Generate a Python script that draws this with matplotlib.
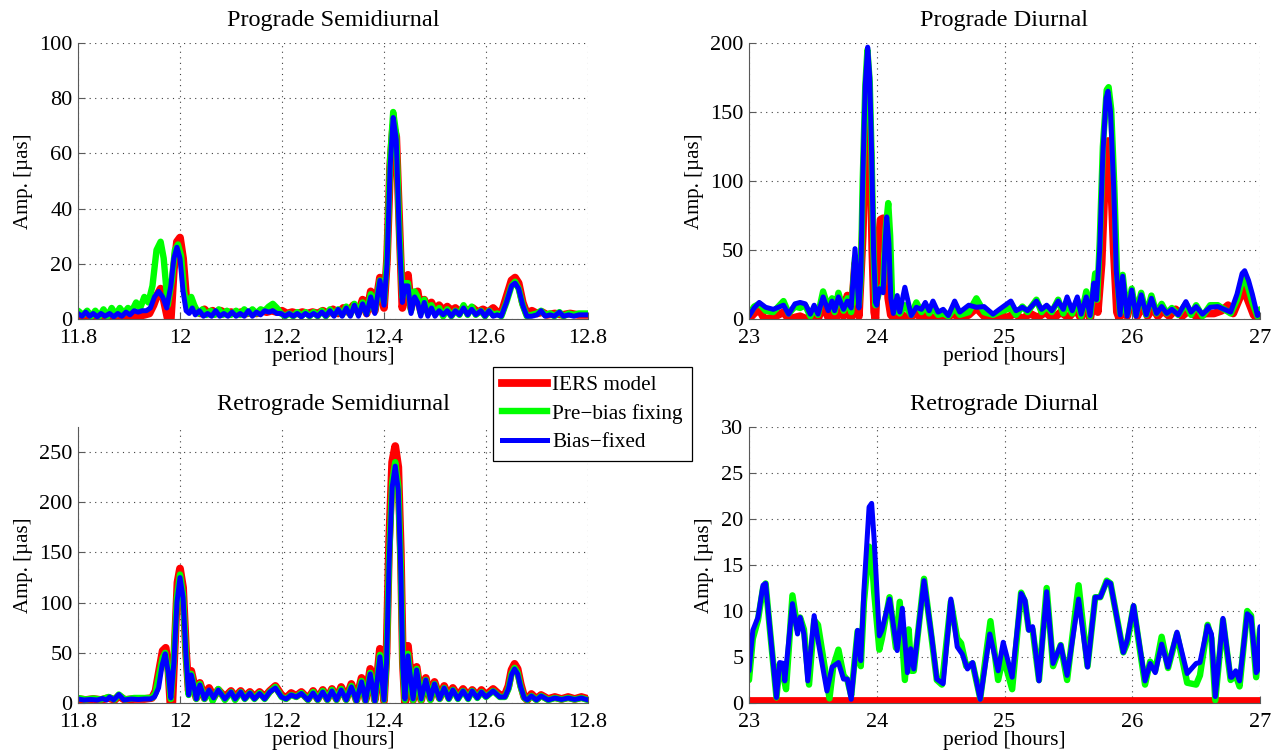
import matplotlib
matplotlib.use('Agg')
import matplotlib.pyplot as plt
from matplotlib.lines import Line2D

plt.rcParams['font.family'] = ['Liberation Serif', 'DejaVu Serif']

# ---- data: (period [h], amplitude [uas]) ----
# Prograde Semidiurnal
pro_semi_iers = [
    (11.800, 1), (11.812, 0.3), (11.822, 1.5), (11.834, 0.3), (11.846, 1), (11.858, 0.3),
    (11.870, 1), (11.882, 0.3), (11.894, 1), (11.906, 0.5), (11.918, 1), (11.930, 1.5),
    (11.940, 2), (11.948, 5), (11.956, 9), (11.962, 11), (11.968, 7), (11.976, 0),
    (11.982, 0), (11.988, 18), (11.994, 28), (12.000, 29.5), (12.006, 22), (12.012, 8),
    (12.018, 3), (12.024, 4), (12.032, 3), (12.040, 2), (12.048, 3.5), (12.056, 2),
    (12.064, 3), (12.072, 2), (12.080, 3), (12.090, 2), (12.100, 2.5), (12.110, 2),
    (12.120, 2.5), (12.130, 2), (12.140, 2.5), (12.150, 2), (12.160, 3), (12.170, 2.5),
    (12.180, 3), (12.190, 2.5), (12.200, 3), (12.210, 2), (12.220, 2.5), (12.230, 2),
    (12.240, 2.5), (12.250, 2), (12.260, 2.5), (12.270, 2), (12.280, 3), (12.290, 2),
    (12.300, 3.5), (12.310, 2), (12.320, 4), (12.330, 2.5), (12.340, 5), (12.350, 2.5),
    (12.358, 7), (12.366, 2), (12.374, 10), (12.382, 3), (12.392, 15), (12.400, 4),
    (12.406, 22), (12.412, 55), (12.418, 70), (12.424, 66), (12.430, 35), (12.436, 4),
    (12.441, 10), (12.447, 16), (12.453, 4), (12.460, 9), (12.466, 10), (12.472, 3),
    (12.479, 7), (12.486, 3), (12.493, 6), (12.500, 3), (12.508, 5), (12.516, 3),
    (12.524, 4.5), (12.532, 3), (12.540, 4), (12.548, 2.5), (12.556, 4), (12.564, 3),
    (12.574, 4), (12.584, 2.5), (12.594, 3.5), (12.604, 2.5), (12.614, 4), (12.622, 2.5),
    (12.630, 2), (12.640, 8), (12.650, 14), (12.657, 15), (12.664, 13), (12.672, 6),
    (12.680, 2), (12.690, 3), (12.700, 2), (12.710, 2.5), (12.720, 1.5), (12.735, 2),
    (12.750, 1.5), (12.765, 2), (12.780, 1.5), (12.800, 1.5),
]
pro_semi_pre = [
    (11.800, 3), (11.810, 1.5), (11.818, 3), (11.826, 1), (11.834, 3), (11.842, 1),
    (11.850, 3.5), (11.858, 1), (11.866, 4), (11.874, 1.5), (11.882, 4), (11.890, 2),
    (11.898, 4), (11.906, 3), (11.914, 6), (11.922, 4), (11.930, 8), (11.938, 6),
    (11.946, 12), (11.954, 25), (11.962, 28), (11.968, 22), (11.976, 5), (11.984, 14),
    (11.990, 25), (11.996, 27), (12.002, 23), (12.008, 10), (12.014, 4), (12.022, 8),
    (12.028, 5), (12.036, 2), (12.044, 3.5), (12.052, 1.5), (12.060, 3), (12.068, 1.5),
    (12.076, 3.5), (12.084, 1.5), (12.092, 3), (12.100, 1.5), (12.110, 3), (12.118, 1.5),
    (12.126, 3.5), (12.134, 2), (12.142, 3.5), (12.150, 2), (12.158, 3.5), (12.166, 3),
    (12.174, 4.5), (12.182, 5.5), (12.190, 4), (12.198, 2), (12.206, 1), (12.214, 2),
    (12.222, 1), (12.230, 2.5), (12.238, 1), (12.246, 2.5), (12.254, 1), (12.262, 2.5),
    (12.270, 1), (12.278, 3), (12.286, 1), (12.294, 3.5), (12.302, 1.5), (12.310, 3.5),
    (12.318, 1.5), (12.326, 4.5), (12.334, 1.5), (12.342, 5.5), (12.350, 2), (12.358, 6),
    (12.366, 2), (12.374, 9), (12.382, 3), (12.392, 14), (12.400, 6), (12.406, 22),
    (12.412, 58), (12.418, 75), (12.424, 67), (12.430, 32), (12.436, 8), (12.441, 13),
    (12.447, 13), (12.453, 3), (12.460, 10), (12.466, 8), (12.472, 2), (12.479, 7),
    (12.486, 2), (12.493, 5), (12.500, 2), (12.508, 4), (12.516, 1), (12.524, 3.5),
    (12.532, 1), (12.540, 3), (12.548, 1.5), (12.556, 5), (12.564, 1.5), (12.572, 4.5),
    (12.580, 1.5), (12.590, 3), (12.598, 1), (12.606, 3), (12.614, 1.5), (12.622, 2),
    (12.630, 1), (12.640, 6), (12.650, 12), (12.657, 13.5), (12.664, 11), (12.672, 5),
    (12.680, 1), (12.690, 1.5), (12.700, 2), (12.708, 3), (12.716, 1.5), (12.726, 2),
    (12.734, 1), (12.744, 2.5), (12.752, 1), (12.762, 2), (12.772, 1.5), (12.782, 2),
    (12.800, 2),
]
pro_semi_fixed = [
    (11.800, 2), (11.808, 1), (11.815, 2.5), (11.823, 1), (11.830, 2), (11.838, 0.8),
    (11.845, 2), (11.853, 1), (11.862, 2), (11.870, 0.8), (11.878, 2), (11.886, 1),
    (11.894, 2.5), (11.902, 1.5), (11.910, 3), (11.918, 2.5), (11.926, 3), (11.934, 3),
    (11.942, 4), (11.950, 8), (11.958, 10), (11.966, 8), (11.974, 4), (11.982, 12),
    (11.988, 22), (11.994, 26), (12.000, 22), (12.006, 10), (12.012, 3), (12.018, 2),
    (12.024, 4), (12.030, 1.5), (12.038, 3), (12.046, 1), (12.054, 2), (12.062, 1),
    (12.070, 3), (12.078, 1), (12.086, 2), (12.094, 1), (12.102, 2.5), (12.110, 1),
    (12.118, 2), (12.126, 1), (12.134, 3), (12.142, 1), (12.150, 2.5), (12.158, 1.5),
    (12.166, 3), (12.174, 2.5), (12.182, 3), (12.190, 2), (12.198, 2), (12.206, 1),
    (12.214, 2), (12.222, 1), (12.230, 2), (12.238, 0.8), (12.246, 2), (12.254, 1),
    (12.262, 2), (12.270, 1), (12.278, 2.5), (12.286, 1), (12.294, 3), (12.302, 1),
    (12.310, 3.5), (12.318, 1), (12.326, 4), (12.334, 1), (12.342, 5), (12.350, 1),
    (12.358, 5.5), (12.366, 1.5), (12.374, 8), (12.382, 2), (12.392, 14), (12.400, 5),
    (12.406, 20), (12.412, 55), (12.418, 73), (12.424, 65), (12.430, 30), (12.436, 6),
    (12.441, 12), (12.447, 12), (12.453, 2), (12.460, 8), (12.466, 6), (12.472, 1),
    (12.479, 6), (12.486, 1), (12.493, 4), (12.500, 1), (12.508, 3), (12.516, 1.5),
    (12.524, 3), (12.532, 1), (12.540, 3), (12.548, 1.5), (12.556, 4), (12.564, 1.5),
    (12.572, 3.5), (12.580, 1.5), (12.590, 3), (12.598, 1), (12.606, 3), (12.614, 1),
    (12.622, 1.5), (12.630, 1), (12.640, 6), (12.650, 12), (12.657, 13), (12.664, 11),
    (12.672, 5), (12.680, 1), (12.690, 1), (12.700, 1.5), (12.708, 3), (12.716, 1),
    (12.726, 1.5), (12.734, 1), (12.744, 2.5), (12.752, 1), (12.762, 1.5), (12.772, 1),
    (12.782, 1.5), (12.800, 1.5),
]

# Prograde Diurnal
pro_diur_iers = [
    (23.00, 0), (23.04, 4), (23.08, 7), (23.12, 0), (23.19, 1), (23.27, 5), (23.31, 0),
    (23.40, 2), (23.45, 0), (23.51, 4), (23.54, 0), (23.58, 10), (23.62, 1), (23.66, 8),
    (23.68, 0), (23.72, 10), (23.74, 2), (23.77, 17), (23.80, 0), (23.83, 40), (23.86, 2),
    (23.89, 60), (23.915, 140), (23.93, 158), (23.95, 120), (23.965, 50), (23.98, 5),
    (23.99, 0), (24.01, 50), (24.03, 72), (24.05, 73), (24.07, 50), (24.09, 15),
    (24.11, 3), (24.14, 0), (24.20, 3), (24.25, 0), (24.30, 4), (24.35, 1), (24.40, 3),
    (24.45, 0), (24.50, 3), (24.55, 1), (24.60, 4), (24.65, 0), (24.72, 3), (24.78, 8),
    (24.84, 2), (24.90, 0), (24.96, 3), (25.02, 1), (25.08, 4), (25.14, 0), (25.20, 4),
    (25.26, 1), (25.32, 5), (25.38, 0), (25.44, 5), (25.50, 1), (25.56, 7), (25.60, 0),
    (25.64, 15), (25.67, 0), (25.71, 20), (25.73, 5), (25.76, 40), (25.79, 110),
    (25.81, 129), (25.83, 110), (25.855, 50), (25.88, 5), (25.90, 0), (25.93, 19),
    (25.96, 2), (26.00, 16), (26.04, 2), (26.08, 10), (26.12, 2), (26.16, 8), (26.20, 2),
    (26.24, 6), (26.29, 2), (26.34, 7), (26.39, 2), (26.44, 6), (26.50, 2), (26.58, 4),
    (26.64, 4), (26.70, 6), (26.75, 10), (26.79, 4), (26.84, 15), (26.87, 23),
    (26.90, 15), (26.95, 3), (26.98, 0), (27.00, 0),
]
pro_diur_pre = [
    (23.00, 3), (23.04, 9), (23.08, 11), (23.13, 6), (23.19, 5), (23.27, 13), (23.31, 4),
    (23.36, 9), (23.40, 8), (23.44, 10), (23.48, 2), (23.51, 8), (23.54, 3), (23.58, 20),
    (23.62, 8), (23.65, 15), (23.67, 5), (23.70, 19), (23.74, 6), (23.77, 15), (23.80, 5),
    (23.83, 45), (23.86, 10), (23.875, 30), (23.89, 100), (23.91, 168), (23.927, 195),
    (23.945, 172), (23.96, 118), (23.975, 48), (23.99, 10), (24.02, 20), (24.05, 25),
    (24.07, 65), (24.09, 84), (24.105, 60), (24.12, 15), (24.14, 5), (24.16, 12),
    (24.18, 4), (24.22, 10), (24.27, 3), (24.31, 12), (24.35, 5), (24.38, 10), (24.41, 4),
    (24.44, 8), (24.48, 3), (24.52, 4), (24.56, 2), (24.61, 8), (24.65, 3), (24.72, 5),
    (24.78, 15), (24.84, 5), (24.91, 3), (24.96, 5), (25.05, 8), (25.09, 3), (25.14, 9),
    (25.18, 5), (25.25, 14), (25.29, 5), (25.33, 9), (25.37, 5), (25.42, 14), (25.46, 4),
    (25.49, 11), (25.53, 4), (25.57, 14), (25.60, 2), (25.64, 20), (25.67, 2),
    (25.71, 33), (25.725, 14), (25.745, 55), (25.77, 125), (25.80, 166), (25.815, 168),
    (25.835, 152), (25.86, 95), (25.88, 35), (25.905, 4), (25.925, 32), (25.96, 3),
    (25.996, 22), (26.03, 3), (26.07, 19), (26.11, 3), (26.15, 17), (26.19, 4),
    (26.23, 11), (26.27, 4), (26.31, 8), (26.36, 3), (26.42, 11), (26.46, 3), (26.50, 10),
    (26.55, 2), (26.61, 10), (26.67, 10), (26.77, 4), (26.82, 14), (26.86, 28),
    (26.88, 30), (26.91, 22), (26.94, 12), (26.98, 2), (27.00, 7),
]
pro_diur_fixed = [
    (23.00, 2), (23.04, 8), (23.08, 12), (23.13, 8.5), (23.19, 7), (23.27, 10), (23.31, 3.5),
    (23.36, 11), (23.40, 12), (23.44, 11), (23.48, 3.5), (23.51, 10), (23.54, 3.5),
    (23.58, 16), (23.62, 6), (23.65, 13), (23.67, 6), (23.70, 16), (23.74, 7), (23.77, 13),
    (23.80, 8), (23.83, 51), (23.86, 8), (23.875, 30), (23.89, 100), (23.91, 170),
    (23.929, 197), (23.945, 175), (23.96, 120), (23.975, 50), (23.99, 12), (24.00, 10),
    (24.02, 22), (24.05, 19), (24.065, 55), (24.078, 74), (24.095, 55), (24.11, 15),
    (24.13, 4), (24.16, 17), (24.18, 5), (24.22, 23), (24.27, 2.5), (24.31, 8.5),
    (24.35, 7), (24.38, 12), (24.41, 6), (24.44, 13), (24.48, 5), (24.52, 7), (24.56, 2.5),
    (24.61, 13), (24.65, 5), (24.72, 10), (24.78, 8.5), (24.84, 9), (24.91, 3.5),
    (24.96, 7), (25.05, 13), (25.09, 6), (25.14, 8.5), (25.18, 6), (25.25, 13), (25.29, 7),
    (25.33, 10), (25.37, 6), (25.42, 13), (25.46, 7), (25.49, 16), (25.53, 6), (25.57, 16),
    (25.60, 3.5), (25.64, 16), (25.67, 2.5), (25.70, 26), (25.72, 14), (25.745, 50),
    (25.77, 120), (25.795, 160), (25.81, 165), (25.83, 150), (25.855, 95), (25.875, 35),
    (25.905, 3), (25.925, 31), (25.96, 2), (25.996, 21), (26.03, 2), (26.07, 17.5),
    (26.11, 3), (26.15, 15), (26.19, 4), (26.23, 9), (26.27, 4), (26.31, 7), (26.36, 3),
    (26.42, 12.6), (26.46, 5), (26.50, 9), (26.55, 3.5), (26.61, 8.5), (26.67, 9),
    (26.77, 5), (26.82, 18), (26.86, 33), (26.88, 35), (26.91, 28), (26.94, 18),
    (26.98, 2.5), (27.00, 4),
]

# Retrograde Semidiurnal
retro_semi_iers = [
    (11.800, 4), (11.815, 3), (11.830, 4), (11.845, 3), (11.860, 5), (11.872, 3),
    (11.880, 7), (11.892, 3), (11.910, 4), (11.930, 4), (11.945, 5), (11.952, 12),
    (11.960, 35), (11.966, 52), (11.972, 55), (11.977, 35), (11.981, 0), (11.985, 0),
    (11.990, 60), (11.995, 120), (12.000, 134), (12.006, 115), (12.012, 50), (12.017, 12),
    (12.022, 32), (12.028, 18), (12.032, 5), (12.039, 20), (12.048, 5), (12.057, 15),
    (12.066, 6), (12.075, 13), (12.088, 6), (12.100, 12), (12.108, 6), (12.119, 12),
    (12.127, 6), (12.137, 11), (12.146, 6), (12.156, 11), (12.166, 6), (12.176, 12),
    (12.187, 17), (12.199, 8), (12.208, 5), (12.218, 10), (12.228, 7), (12.238, 11),
    (12.251, 4), (12.261, 12), (12.270, 4), (12.280, 13), (12.289, 4), (12.298, 14),
    (12.307, 4), (12.316, 16), (12.326, 4), (12.336, 19), (12.346, 3), (12.356, 25),
    (12.364, 3), (12.373, 34), (12.382, 3), (12.392, 54), (12.400, 2), (12.405, 50),
    (12.410, 160), (12.416, 240), (12.422, 256), (12.428, 235), (12.433, 150),
    (12.437, 40), (12.441, 0), (12.447, 57), (12.457, 3), (12.464, 36), (12.473, 3),
    (12.482, 25), (12.491, 4), (12.499, 21), (12.509, 5), (12.518, 17), (12.527, 6),
    (12.535, 15), (12.545, 7), (12.555, 14), (12.565, 7), (12.573, 13), (12.583, 7),
    (12.591, 13), (12.600, 8), (12.614, 14), (12.627, 8), (12.637, 8), (12.644, 17),
    (12.650, 33), (12.656, 39), (12.662, 34), (12.668, 19), (12.675, 6), (12.681, 3),
    (12.689, 9), (12.699, 4), (12.708, 8), (12.722, 4), (12.735, 6), (12.748, 4),
    (12.761, 6), (12.774, 4), (12.787, 6), (12.800, 4),
]
retro_semi_pre = [
    (11.800, 5), (11.815, 3.5), (11.830, 4.5), (11.845, 3.5), (11.860, 6), (11.872, 3.5),
    (11.880, 8.5), (11.892, 3.5), (11.910, 5), (11.930, 5), (11.945, 5), (11.952, 10),
    (11.960, 30), (11.966, 45), (11.971, 50), (11.977, 30), (11.982, 4), (11.988, 45),
    (11.994, 105), (12.000, 128), (12.006, 108), (12.012, 45), (12.017, 8), (12.022, 29),
    (12.028, 15), (12.032, 4), (12.039, 19), (12.048, 4), (12.057, 12), (12.064, 2),
    (12.075, 14), (12.088, 3), (12.100, 11), (12.108, 3), (12.119, 11), (12.127, 4),
    (12.137, 10), (12.146, 4), (12.156, 10), (12.166, 4), (12.176, 11), (12.187, 16),
    (12.199, 6), (12.208, 4), (12.218, 8), (12.228, 6), (12.238, 10), (12.251, 3),
    (12.261, 11), (12.270, 3), (12.280, 12), (12.289, 3), (12.298, 13), (12.307, 3),
    (12.316, 14), (12.326, 3), (12.336, 17), (12.346, 2), (12.356, 22), (12.364, 2),
    (12.373, 30), (12.382, 2), (12.392, 48), (12.400, 3), (12.405, 42), (12.410, 145),
    (12.416, 220), (12.422, 240), (12.428, 216), (12.433, 135), (12.437, 36), (12.441, 3),
    (12.447, 49), (12.457, 3), (12.464, 34), (12.473, 3), (12.482, 23), (12.491, 3),
    (12.499, 19), (12.509, 4), (12.518, 15), (12.527, 4), (12.535, 13), (12.545, 4),
    (12.555, 12), (12.565, 4), (12.573, 12), (12.583, 5), (12.591, 11), (12.600, 6),
    (12.614, 12), (12.627, 6), (12.637, 6), (12.644, 14), (12.650, 29), (12.656, 35),
    (12.662, 30), (12.668, 16), (12.675, 5), (12.681, 3), (12.689, 7), (12.699, 3),
    (12.708, 7), (12.722, 3), (12.735, 5), (12.748, 3.5), (12.761, 5), (12.774, 3.5),
    (12.787, 5), (12.800, 3),
]
retro_semi_fixed = [
    (11.800, 4), (11.812, 3), (11.825, 3.5), (11.838, 3), (11.848, 4.5), (11.856, 3),
    (11.862, 6), (11.870, 3), (11.880, 8.5), (11.890, 3), (11.905, 4), (11.918, 3.5),
    (11.930, 4), (11.942, 4), (11.950, 6), (11.958, 15), (11.965, 38), (11.971, 49),
    (11.977, 30), (11.982, 5), (11.988, 40), (11.994, 100), (12.000, 125), (12.006, 105),
    (12.012, 45), (12.017, 8), (12.022, 28), (12.028, 15), (12.032, 4), (12.039, 18),
    (12.048, 4), (12.057, 13), (12.066, 5), (12.075, 13), (12.088, 4), (12.100, 11),
    (12.108, 4), (12.119, 11), (12.127, 4), (12.137, 10), (12.146, 4), (12.156, 9.5),
    (12.166, 4), (12.176, 11), (12.187, 15), (12.199, 6), (12.208, 4), (12.218, 8),
    (12.228, 6), (12.238, 9.5), (12.251, 3), (12.261, 10), (12.270, 3), (12.280, 11),
    (12.289, 3), (12.298, 12), (12.307, 3), (12.316, 13), (12.326, 3), (12.336, 16),
    (12.346, 2), (12.356, 21), (12.364, 2), (12.373, 29), (12.382, 2), (12.392, 46),
    (12.400, 3), (12.405, 40), (12.410, 140), (12.416, 215), (12.422, 236), (12.428, 212),
    (12.433, 130), (12.437, 35), (12.441, 4), (12.447, 47), (12.457, 4), (12.464, 33),
    (12.473, 4), (12.482, 23), (12.491, 4), (12.499, 19), (12.509, 4), (12.518, 15),
    (12.527, 4), (12.535, 13), (12.545, 4), (12.555, 12), (12.565, 4), (12.573, 12),
    (12.583, 5), (12.591, 11), (12.600, 6), (12.614, 12), (12.627, 6), (12.637, 6),
    (12.644, 14), (12.650, 28), (12.656, 34), (12.662, 29), (12.668, 16), (12.675, 5),
    (12.681, 3), (12.689, 7), (12.699, 3), (12.708, 7), (12.722, 3), (12.735, 5),
    (12.748, 3.5), (12.761, 5), (12.774, 3.5), (12.787, 5), (12.800, 3),
]

# Retrograde Diurnal
retro_diur_iers = [(23.00, 0.25), (27.00, 0.25)]
retro_diur_pre = [
    (23.00, 2.5), (23.03, 7), (23.07, 9), (23.11, 12.5), (23.13, 13), (23.16, 8.5),
    (23.215, 0.6), (23.24, 4.2), (23.26, 3.5), (23.29, 1.5), (23.34, 11.7), (23.38, 8),
    (23.40, 9.3), (23.43, 8), (23.47, 2), (23.51, 9), (23.54, 8.5), (23.58, 5),
    (23.63, 0.5), (23.66, 4), (23.70, 5.8), (23.74, 3), (23.77, 2.5), (23.80, 0.8),
    (23.85, 7.8), (23.875, 4), (23.90, 11), (23.94, 17), (23.96, 16), (23.98, 12),
    (24.02, 5.8), (24.04, 7), (24.10, 11.5), (24.15, 6), (24.18, 11), (24.22, 2.5),
    (24.25, 8), (24.27, 3.5), (24.29, 3.5), (24.37, 13.5), (24.43, 7), (24.47, 2.5),
    (24.51, 2), (24.58, 11), (24.63, 7), (24.66, 6.5), (24.70, 4), (24.75, 4.3),
    (24.81, 0.5), (24.89, 8.9), (24.95, 2.5), (24.99, 5), (25.06, 1.5), (25.13, 12),
    (25.16, 11), (25.19, 8), (25.22, 8), (25.27, 2.5), (25.33, 12.5), (25.38, 4),
    (25.44, 6.3), (25.49, 2.5), (25.58, 12.8), (25.65, 4), (25.71, 11.5), (25.75, 11.5),
    (25.80, 13.3), (25.83, 13), (25.93, 5.5), (25.96, 6.5), (26.01, 10.5), (26.10, 2),
    (26.14, 4.5), (26.18, 3.5), (26.23, 7.2), (26.28, 3.8), (26.35, 7.5), (26.43, 2.2),
    (26.50, 2), (26.53, 3), (26.59, 8.5), (26.62, 7), (26.65, 0.3), (26.71, 9),
    (26.77, 2.5), (26.81, 3), (26.84, 1.8), (26.90, 10), (26.93, 9.5), (26.97, 2.8),
    (27.00, 8),
]
retro_diur_fixed = [
    (23.00, 3.5), (23.03, 7.9), (23.07, 9.3), (23.11, 12.8), (23.13, 13), (23.16, 8.6),
    (23.215, 0.6), (23.24, 4.4), (23.27, 4.3), (23.28, 2.4), (23.34, 10.8), (23.38, 7.5),
    (23.40, 9.3), (23.43, 7.5), (23.46, 2.4), (23.51, 9.5), (23.54, 6.8), (23.61, 1.3),
    (23.65, 3.9), (23.70, 4.4), (23.74, 2.6), (23.77, 2.6), (23.80, 0.4), (23.85, 7.9),
    (23.875, 4.6), (23.90, 12.3), (23.94, 21.3), (23.96, 21.7), (23.98, 17.7),
    (24.02, 7.3), (24.04, 7.9), (24.10, 11.3), (24.16, 5.7), (24.20, 10.3), (24.24, 3.3),
    (24.265, 5.9), (24.29, 3.7), (24.37, 13.3), (24.43, 7.2), (24.47, 2.6), (24.52, 2.1),
    (24.58, 11.3), (24.63, 6.1), (24.67, 5.3), (24.71, 3.7), (24.75, 4.4), (24.81, 0.4),
    (24.885, 7.5), (24.95, 3.5), (24.99, 6.6), (25.06, 2.8), (25.13, 11.9), (25.16, 11.2),
    (25.19, 7.9), (25.22, 8.3), (25.27, 2.4), (25.33, 12.1), (25.38, 4.3), (25.44, 6.3),
    (25.49, 3.0), (25.58, 11.3), (25.65, 3.9), (25.71, 11.5), (25.75, 11.5), (25.80, 13.2),
    (25.83, 13), (25.93, 5.5), (25.96, 6.8), (26.01, 10.6), (26.10, 2.4), (26.14, 4.3),
    (26.18, 3.3), (26.23, 6.4), (26.28, 3.9), (26.35, 7.7), (26.43, 3.2), (26.50, 4.3),
    (26.53, 4.4), (26.59, 8.4), (26.62, 7.5), (26.65, 0.7), (26.71, 9.2), (26.77, 2.8),
    (26.78, 2.8), (26.81, 3.5), (26.84, 2.4), (26.90, 9.7), (26.93, 9.3), (26.97, 3.3),
    (26.98, 3.5), (27.00, 8.3),
]

titles = ["Prograde Semidiurnal", "Prograde Diurnal",
          "Retrograde Semidiurnal", "Retrograde Diurnal"]
semi_xticks = [11.8, 12.0, 12.2, 12.4, 12.6, 12.8]
semi_xlabels = ["11.8", "12", "12.2", "12.4", "12.6", "12.8"]
diur_xticks = [23, 24, 25, 26, 27]
diur_xlabels = ["23", "24", "25", "26", "27"]
series_names = ["IERS model", "Pre\u2212bias fixing", "Bias\u2212fixed"]

colors = ['#ff0000', '#00ff00', '#0000ff']
widths = [5.6, 4.6, 3.6]

W, H = 1277, 754
fig = plt.figure(figsize=(W / 100, H / 100), dpi=100)


def make_axes(left, top, right, bottom):
    return fig.add_axes([left / W, 1 - bottom / H, (right - left) / W, (bottom - top) / H])


panels = [
    (make_axes(78, 43, 588, 319), [pro_semi_iers, pro_semi_pre, pro_semi_fixed],
     (11.8, 12.8), semi_xticks, semi_xlabels, (0, 100), [0, 20, 40, 60, 80, 100], -0.089),
    (make_axes(749, 43, 1260, 319), [pro_diur_iers, pro_diur_pre, pro_diur_fixed],
     (23, 27), diur_xticks, diur_xlabels, (0, 200), [0, 50, 100, 150, 200], -0.089),
    (make_axes(78, 427, 588, 703), [retro_semi_iers, retro_semi_pre, retro_semi_fixed],
     (11.8, 12.8), semi_xticks, semi_xlabels, (0, 275), [0, 50, 100, 150, 200, 250], -0.089),
    (make_axes(749, 427, 1260, 703), [retro_diur_iers, retro_diur_pre, retro_diur_fixed],
     (23, 27), diur_xticks, diur_xlabels, (0, 30), [0, 5, 10, 15, 20, 25, 30], -0.069),
]

for (ax, data, xlim, xt, xl, ylim, yt, ylx), title in zip(panels, titles):
    for d, c, lw in zip(data, colors, widths):
        xs, ys = zip(*d)
        ax.plot(xs, ys, color=c, lw=lw, solid_joinstyle='round', solid_capstyle='round')
    ax.set_xlim(*xlim)
    ax.set_ylim(*ylim)
    ax.set_xticks(xt)
    ax.set_xticklabels(xl)
    ax.set_yticks(yt)
    ax.set_yticklabels([str(v) for v in yt])
    ax.grid(True, color='0.25', linestyle=(0, (1, 4)), linewidth=0.8)
    ax.set_axisbelow(True)
    for s in ['top', 'right']:
        ax.spines[s].set_visible(False)
    for s in ['left', 'bottom']:
        ax.spines[s].set_color('0.35')
    ax.tick_params(direction='in', length=5, color='0.35', labelsize=16)
    ax.tick_params(axis='x', pad=7)
    ax.tick_params(axis='y', pad=4)
    ax.set_title(title, fontsize=17.5, pad=12)
    ax.set_xlabel('period [hours]', fontsize=15.5)
    ax.set_ylabel('Amp. [\u00b5as]', fontsize=15)
    ax.xaxis.set_label_coords(0.5, -0.10)
    ax.yaxis.set_label_coords(ylx, 0.5)

handles = [Line2D([], [], color=c, lw=lw) for c, lw in zip(colors, widths)]
leg = fig.legend(handles, series_names, loc='upper left',
                 bbox_to_anchor=(493 / W, 1 - 367 / H), borderaxespad=0,
                 fontsize=15.3, handlelength=2.15, handletextpad=0.25,
                 labelspacing=0.4, borderpad=0.4, fancybox=False, framealpha=1)
leg.get_frame().set_edgecolor('black')
leg.get_frame().set_linewidth(0.9)

fig.savefig('out.png', dpi=100)
